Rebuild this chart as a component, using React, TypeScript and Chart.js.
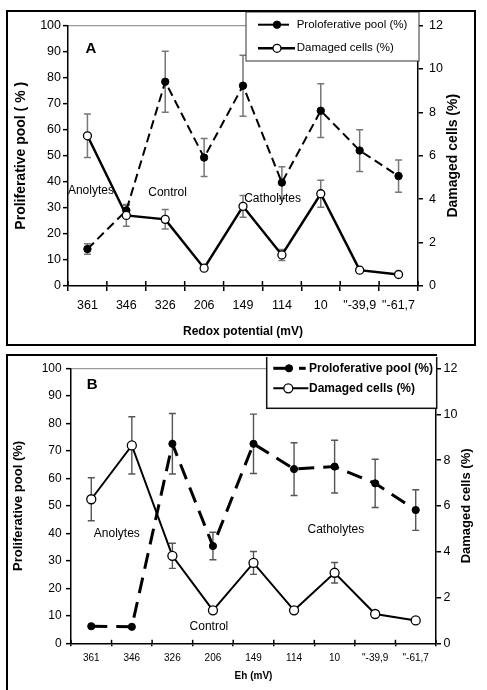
import React, { useEffect, useRef } from 'react';
import { Chart, registerables } from 'chart.js';

Chart.register(...registerables);

// ---------- data ----------
const categories = ['361', '346', '326', '206', '149', '114', '10', '"-39,9', '"-61,7'];

const seriesLabels = ['Proloferative pool (%)', 'Damaged cells (%)'];

// Panel A (left axis %, right axis %)
const aProliferative = [14.2, 29, 78.4, 49.3, 76.9, 39.7, 67.3, 52, 42.2];
const aProliferativeErr = [2, 2, 11.7, 7.3, 11.7, 6.1, 10.3, 8, 6.2];
const aDamaged = [6.92, 3.25, 3.07, 0.82, 3.67, 1.43, 4.25, 0.73, 0.53];
const aDamagedErr = [1.0, 0.5, 0.45, 0, 0.5, 0.25, 0.62, 0, 0];

// Panel B
const bProliferative = [6.2, 6.0, 72.6, 35.4, 72.6, 63.4, 64.3, 58.2, 48.5];
const bProliferativeErr = [0, 0, 11, 5, 10.8, 9.6, 9.6, 8.8, 7.4];
const bDamaged = [6.29, 8.64, 3.82, 1.44, 3.51, 1.44, 3.08, 1.28, 1.0];
const bDamagedErr = [0.94, 1.25, 0.55, 0.1, 0.5, 0.1, 0.45, 0.08, 0];

const leftAxis = { min: 0, max: 100, step: 10 };
const rightAxis = { min: 0, max: 12, step: 2 };

const FONT = '"Liberation Sans", Arial, Helvetica, sans-serif';

// ---------- plugin for error bars, annotations, legend, right title ----------
const decorPlugin = {
  id: 'decor',
  beforeDatasetsDraw(chart: any, _args: any, opts: any) {
    const ctx = chart.ctx;
    (opts.errorBars || []).forEach((eb: any) => {
      const meta = chart.getDatasetMeta(eb.dataset);
      const ds = chart.data.datasets[eb.dataset];
      const scale = chart.scales[ds.yAxisID];
      ctx.save();
      ctx.strokeStyle = eb.color;
      ctx.lineWidth = eb.width;
      ctx.setLineDash([]);
      meta.data.forEach((pt: any, i: number) => {
        const e = eb.errors[i];
        if (!e) return;
        const v = ds.data[i];
        const yT = scale.getPixelForValue(v + e);
        const yB = scale.getPixelForValue(v - e);
        ctx.beginPath();
        ctx.moveTo(pt.x, yT);
        ctx.lineTo(pt.x, yB);
        ctx.moveTo(pt.x - eb.cap, yT);
        ctx.lineTo(pt.x + eb.cap, yT);
        ctx.moveTo(pt.x - eb.cap, yB);
        ctx.lineTo(pt.x + eb.cap, yB);
        ctx.stroke();
      });
      ctx.restore();
    });
  },
  afterDraw(chart: any, _args: any, opts: any) {
    const ctx = chart.ctx;
    const xs = chart.scales.x;
    const ys = chart.scales.y;
    const area = chart.chartArea;

    // inward part of crossing x tick marks
    if (opts.xTickIn) {
      ctx.save();
      ctx.strokeStyle = '#000';
      ctx.lineWidth = 1.5;
      const n = categories.length;
      for (let i = 0; i <= n; i++) {
        const x = xs.getPixelForValue(i - 0.5);
        ctx.beginPath();
        ctx.moveTo(x, area.bottom);
        ctx.lineTo(x, area.bottom - opts.xTickIn);
        ctx.stroke();
      }
      ctx.restore();
    }

    // annotations
    (opts.annotations || []).forEach((a: any) => {
      ctx.save();
      ctx.fillStyle = '#000';
      ctx.font = a.font;
      ctx.textAlign = 'center';
      ctx.textBaseline = 'middle';
      ctx.fillText(a.text, xs.getPixelForValue(a.at), ys.getPixelForValue(a.value));
      ctx.restore();
    });

    // right axis title (reads bottom to top)
    if (opts.rightTitle) {
      const rt = opts.rightTitle;
      const y2 = chart.scales.y2;
      ctx.save();
      ctx.translate(y2.right - rt.offset, (area.top + area.bottom) / 2);
      ctx.rotate(-Math.PI / 2);
      ctx.fillStyle = '#000';
      ctx.font = rt.font;
      ctx.textAlign = 'center';
      ctx.textBaseline = 'middle';
      ctx.fillText(rt.text, 0, 0);
      ctx.restore();
    }

    // legend box
    if (opts.legend) {
      const lg = opts.legend;
      const [x1, y1, x2, y2] = lg.box;
      ctx.save();
      ctx.fillStyle = '#fff';
      ctx.fillRect(x1, y1, x2 - x1, y2 - y1);
      ctx.strokeStyle = lg.border;
      ctx.lineWidth = lg.borderWidth;
      ctx.strokeRect(x1, y1, x2 - x1, y2 - y1);
      lg.rows.forEach((r: any) => {
        const ds = chart.data.datasets[r.dataset];
        ctx.strokeStyle = '#000';
        ctx.lineWidth = ds.borderWidth;
        ctx.setLineDash([]);
        r.segs.forEach((s: number[]) => {
          ctx.beginPath();
          ctx.moveTo(s[0], r.y);
          ctx.lineTo(s[1], r.y);
          ctx.stroke();
        });
        ctx.beginPath();
        ctx.arc(r.markerX, r.y, ds.pointRadius, 0, Math.PI * 2);
        ctx.fillStyle = ds.pointBackgroundColor;
        ctx.fill();
        ctx.lineWidth = ds.pointBorderWidth;
        ctx.strokeStyle = '#000';
        ctx.stroke();
        ctx.fillStyle = '#000';
        ctx.font = lg.font;
        ctx.textAlign = 'left';
        ctx.textBaseline = 'middle';
        ctx.fillText(ds.label, r.textX, r.y);
      });
      ctx.restore();
    }
  },
};

// ---------- chart config ----------
function buildConfig(p: any) {
  const tickFont = (size: number) => ({ size, family: FONT });
  return {
    type: 'line',
    data: {
      labels: categories,
      datasets: [
        {
          label: seriesLabels[0],
          data: p.prolif,
          yAxisID: 'y',
          borderColor: '#000',
          borderWidth: p.prolifWidth,
          borderDash: p.prolifDash,
          pointRadius: p.filledRadius,
          pointBackgroundColor: '#000',
          pointBorderColor: '#000',
          pointBorderWidth: 1,
          pointHoverRadius: p.filledRadius,
          tension: 0,
          fill: false,
          order: 2,
        },
        {
          label: seriesLabels[1],
          data: p.damaged,
          yAxisID: 'y2',
          borderColor: '#000',
          borderWidth: p.damagedWidth,
          pointRadius: p.openRadius,
          pointBackgroundColor: '#fff',
          pointBorderColor: '#000',
          pointBorderWidth: 1.3,
          pointHoverRadius: p.openRadius,
          tension: 0,
          fill: false,
          order: 1,
        },
      ],
    },
    options: {
      responsive: false,
      animation: false,
      events: [],
      layout: { padding: { top: p.padTop, left: 0, right: 0, bottom: 0 }, autoPadding: false },
      plugins: {
        legend: { display: false },
        tooltip: { enabled: false },
        title: { display: false },
        decor: p.decor,
      },
      scales: {
        x: {
          type: 'category',
          offset: true,
          grid: {
            offset: true,
            drawOnChartArea: false,
            color: '#000',
            lineWidth: 1.5,
            tickLength: p.xTickOut,
          },
          border: { color: '#000', width: 1.5 },
          ticks: {
            color: '#000',
            font: tickFont(p.xTickFont),
            padding: p.xTickPad,
            maxRotation: 0,
            autoSkip: false,
          },
          title: {
            display: true,
            text: p.xTitle,
            color: '#000',
            font: { size: p.xTitleFont, weight: 'bold', family: FONT },
            padding: { top: 0, bottom: p.xTitlePad },
          },
          afterFit: (s: any) => {
            s.height = p.xHeight;
          },
        },
        y: {
          position: 'left',
          min: leftAxis.min,
          max: leftAxis.max,
          ticks: {
            stepSize: leftAxis.step,
            color: '#000',
            font: tickFont(p.yTickFont),
            padding: p.yTickPad,
          },
          grid: {
            drawOnChartArea: true,
            color: (c: any) => (c.tick && c.tick.value === leftAxis.max ? '#9a9a9a' : 'rgba(0,0,0,0)'),
            tickColor: '#000',
            lineWidth: 1.3,
            tickWidth: 1.5,
            tickLength: 5,
          },
          border: { color: '#000', width: 1.5 },
          title: {
            display: true,
            text: p.yTitle,
            color: '#000',
            font: { size: p.yTitleFont, weight: 'bold', family: FONT },
            padding: { top: p.yTitlePad, bottom: 0 },
          },
          afterFit: (s: any) => {
            s.width = p.yWidth;
          },
        },
        y2: {
          position: 'right',
          min: rightAxis.min,
          max: rightAxis.max,
          ticks: {
            stepSize: rightAxis.step,
            color: '#000',
            font: tickFont(p.y2TickFont),
            padding: p.y2TickPad,
          },
          grid: {
            drawOnChartArea: false,
            color: '#000',
            lineWidth: 1.5,
            tickLength: 5,
          },
          border: { color: '#000', width: 1.5 },
          title: { display: false },
          afterFit: (s: any) => {
            s.width = p.y2Width;
          },
        },
      },
    },
    plugins: [decorPlugin],
  };
}

const panelA = {
  width: 466,
  height: 331,
  prolif: aProliferative,
  damaged: aDamaged,
  prolifWidth: 2,
  prolifDash: [9, 5],
  damagedWidth: 2.5,
  filledRadius: 3.7,
  openRadius: 4,
  padTop: 10,
  xHeight: 57,
  yWidth: 60,
  y2Width: 56,
  xTickOut: 5,
  xTickFont: 12.5,
  xTickPad: 7,
  xTitle: 'Redox potential (mV)',
  xTitleFont: 12,
  xTitlePad: 4,
  yTitle: 'Proliferative pool ( % )',
  yTitleFont: 14,
  yTitlePad: 4.6,
  yTickFont: 12.5,
  yTickPad: 2,
  y2TickFont: 12.5,
  y2TickPad: 6,
  decor: {
    xTickIn: 5,
    errorBars: [
      { dataset: 0, errors: aProliferativeErr, color: '#777', width: 1.5, cap: 3.5 },
      { dataset: 1, errors: aDamagedErr, color: '#777', width: 1.5, cap: 3.5 },
    ],
    annotations: [
      { text: 'A', at: 0.09, value: 90.9, font: `bold 15px ${FONT}` },
      { text: 'Anolytes', at: 0.09, value: 36.7, font: `12px ${FONT}` },
      { text: 'Control', at: 2.06, value: 36, font: `12px ${FONT}` },
      { text: 'Catholytes', at: 4.76, value: 33.7, font: `12px ${FONT}` },
    ],
    rightTitle: { text: 'Damaged cells (%)', offset: 21, font: `bold 14px ${FONT}` },
    legend: {
      box: [238, 0, 411, 49],
      border: '#333',
      borderWidth: 1,
      font: `11.5px ${FONT}`,
      rows: [
        { dataset: 0, y: 12.7, segs: [[250, 281]], markerX: 269, textX: 288.7 },
        { dataset: 1, y: 36.3, segs: [[250, 287]], markerX: 269, textX: 288.7 },
      ],
    },
  },
};

const panelB = {
  width: 479,
  height: 333,
  prolif: bProliferative,
  damaged: bDamaged,
  prolifWidth: 3,
  prolifDash: [16, 9],
  damagedWidth: 2,
  filledRadius: 3.6,
  openRadius: 4.5,
  padTop: 8.7,
  xHeight: 46.7,
  yWidth: 63,
  y2Width: 51,
  xTickOut: 3,
  xTickFont: 10,
  xTickPad: 6,
  xTitle: 'Eh (mV)',
  xTitleFont: 10,
  xTitlePad: 7.3,
  yTitle: 'Proliferative pool (%)',
  yTitleFont: 13,
  yTitlePad: 2.5,
  yTickFont: 12,
  yTickPad: 4.3,
  y2TickFont: 12.5,
  y2TickPad: 2.5,
  decor: {
    xTickIn: 3.5,
    errorBars: [
      { dataset: 0, errors: bProliferativeErr, color: '#555', width: 1.4, cap: 3.5 },
      { dataset: 1, errors: bDamagedErr, color: '#555', width: 1.4, cap: 3.5 },
    ],
    annotations: [
      { text: 'B', at: 0.02, value: 93.9, font: `bold 15px ${FONT}` },
      { text: 'Anolytes', at: 0.63, value: 39.8, font: `12px ${FONT}` },
      { text: 'Control', at: 2.9, value: 5.9, font: `12px ${FONT}` },
      { text: 'Catholytes', at: 6.03, value: 41.3, font: `12px ${FONT}` },
    ],
    rightTitle: { text: 'Damaged cells (%)', offset: 21, font: `bold 13px ${FONT}` },
    legend: {
      box: [258.7, -3, 428.7, 51.3],
      border: '#111',
      borderWidth: 1.5,
      font: `bold 12px ${FONT}`,
      rows: [
        { dataset: 0, y: 11.3, segs: [[265.3, 278.7], [291, 297.7]], markerX: 281, textX: 301 },
        { dataset: 1, y: 31.3, segs: [[265.3, 300.3]], markerX: 280.3, textX: 301 },
      ],
    },
  },
};

function Panel({ cfg, left, top }: { cfg: any; left: number; top: number }) {
  const ref = useRef<HTMLCanvasElement | null>(null);
  useEffect(() => {
    if (!ref.current) return;
    const chart = new Chart(ref.current, buildConfig(cfg) as any);
    return () => chart.destroy();
  }, [cfg]);
  return (
    <canvas
      ref={ref}
      width={cfg.width}
      height={cfg.height}
      style={{ position: 'absolute', left, top, width: cfg.width, height: cfg.height, display: 'block' }}
    />
  );
}

export default function App() {
  return (
    <div
      style={{
        position: 'absolute',
        left: 0,
        top: 0,
        width: 487,
        height: 690,
        overflow: 'hidden',
        background: '#fff',
      }}
    >
      <div
        style={{
          position: 'absolute',
          left: 6,
          top: 10,
          width: 470,
          height: 336,
          border: '2px solid #000',
          boxSizing: 'border-box',
        }}
      />
      <div
        style={{
          position: 'absolute',
          left: 6,
          top: 354,
          width: 431,
          height: 400,
          borderLeft: '2px solid #000',
          borderTop: '2px solid #000',
          boxSizing: 'border-box',
        }}
      />
      <Panel cfg={panelA} left={8} top={12} />
      <Panel cfg={panelB} left={8} top={357} />
    </div>
  );
}
